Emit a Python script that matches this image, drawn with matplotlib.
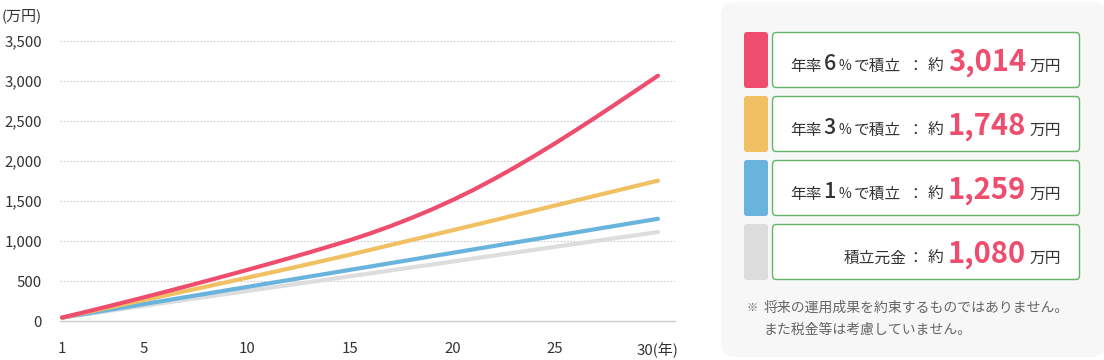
import matplotlib
matplotlib.use("Agg")
import matplotlib.pyplot as plt
from matplotlib.patches import FancyBboxPatch
from matplotlib.ticker import FuncFormatter

plt.rcParams['font.family'] = ['Noto Sans CJK JP', 'DejaVu Sans']

# Data (万円)
years = list(range(1, 31))
rate6 = [46, 108, 171, 235, 300, 366, 433, 501, 570, 640,
         711, 783, 857, 933, 1011, 1096, 1188, 1288, 1395, 1511,
         1636, 1771, 1914, 2064, 2220, 2382, 2548, 2718, 2890, 3062]
rate3 = [46, 101, 156, 211, 266, 321, 376, 431, 487, 543,
         599, 656, 713, 771, 830, 891, 952, 1013, 1074, 1135,
         1196, 1258, 1320, 1382, 1444, 1506, 1568, 1630, 1692, 1754]
rate1 = [46, 88, 131, 173, 216, 258, 301, 343, 386, 428,
         471, 513, 556, 598, 641, 683, 726, 768, 811, 853,
         896, 938, 981, 1023, 1066, 1108, 1151, 1193, 1236, 1278]
principal = [46, 83, 120, 156, 193, 230, 267, 304, 340, 377,
             414, 451, 488, 524, 561, 598, 635, 672, 708, 745,
             782, 819, 856, 892, 929, 966, 1003, 1040, 1076, 1113]

yticks = [0, 500, 1000, 1500, 2000, 2500, 3000, 3500]
xticks = [1, 5, 10, 15, 20, 25, 30]
xticklabels = ['1', '5', '10', '15', '20', '25', '30(年)']

legend_rates = ['6', '3', '1']
legend_amounts = ['3,014', '1,748', '1,259', '1,080']

RED = '#EF4D6D'
YELLOW = '#F1C062'
BLUE = '#68B4DD'
GRAY = '#DDDDDD'
TEXT = '#333333'
colors = [RED, YELLOW, BLUE, GRAY]

W, H = 1104, 360
fig = plt.figure(figsize=(W / 100, H / 100), dpi=100)
fig.patch.set_facecolor('white')

# Main chart
ax = fig.add_axes([60 / W, (H - 321.3) / H, 615 / W, 280.7 / H])
for vals, c in [(principal, GRAY), (rate1, BLUE), (rate3, YELLOW), (rate6, RED)]:
    ax.plot(years, vals, color=c, linewidth=3.0, solid_capstyle='round', zorder=3)

ax.set_xlim(0.9, 30.83)
ax.set_ylim(0, 3500)
ax.set_yticks(yticks)
ax.yaxis.set_major_formatter(FuncFormatter(lambda v, p: f'{int(v):,}'))
ax.set_xticks(xticks)
ax.set_xticklabels(xticklabels)
ax.tick_params(axis='both', length=0, labelsize=10.8, colors=TEXT)
ax.tick_params(axis='y', pad=13)
ax.tick_params(axis='x', pad=15)
for s in ['top', 'right', 'left']:
    ax.spines[s].set_visible(False)
ax.spines['bottom'].set_color('#CCCCCC')
ax.spines['bottom'].set_linewidth(1.0)
for v in yticks[1:]:
    ax.axhline(v, color='#CCCCCC', linewidth=0.8, linestyle=(0, (1.5, 1.5)), zorder=1)
ax.text(-0.095, 1.09, '(万円)', transform=ax.transAxes, fontsize=10.8, color=TEXT,
        ha='left', va='center')

# Overlay in pixel coordinates for the legend panel
ov = fig.add_axes([0, 0, 1, 1])
ov.set_xlim(0, W)
ov.set_ylim(H, 0)
ov.axis('off')
ov.patch.set_alpha(0)

ov.add_patch(FancyBboxPatch((721, 2), 385, 355, boxstyle='round,pad=0,rounding_size=15',
                            facecolor='#F7F7F7', edgecolor='none'))

for i in range(4):
    top = 32 + i * 64
    ov.add_patch(FancyBboxPatch((744, top), 24, 56, boxstyle='round,pad=0,rounding_size=3',
                                facecolor=colors[i], edgecolor='none'))
    ov.add_patch(FancyBboxPatch((772.5, top + 0.5), 307, 55, boxstyle='round,pad=0,rounding_size=4',
                                facecolor='white', edgecolor='#63B563', linewidth=1.0))
    base = top + 38.5
    if i < 3:
        ov.text(790.5, base, '年率', fontsize=11.3, color=TEXT, va='baseline', ha='left')
        ov.text(823.5, base, legend_rates[i], fontsize=15.5, color=TEXT, va='baseline', ha='left',
                fontweight='medium')
        ov.text(838.5, base, '%', fontsize=10, color=TEXT, va='baseline', ha='left')
        ov.text(853.5, base, 'で積立', fontsize=11.3, color=TEXT, va='baseline', ha='left')
    else:
        ov.text(907, base, '積立元金', fontsize=11.3, color=TEXT, va='baseline', ha='right')
    ov.text(915.5, base, '：', fontsize=11.3, color=TEXT, va='baseline', ha='center')
    ov.text(927.5, base, '約', fontsize=11.3, color=TEXT, va='baseline', ha='left')
    ov.text(1026, base, legend_amounts[i], fontsize=21, color=RED, va='baseline', ha='right',
            fontweight='bold')
    ov.text(1029, base, '万円', fontsize=11.3, color=TEXT, va='baseline', ha='left')

ov.text(746.5, 308, '※', fontsize=8, color='#666666', va='center', ha='left')
ov.text(764, 308, '将来の運用成果を約束するものではありません。', fontsize=10, color='#666666',
        va='center', ha='left')
ov.text(764, 330, 'また税金等は考慮していません。', fontsize=10, color='#666666',
        va='center', ha='left')

fig.savefig('out.png', dpi=100)
